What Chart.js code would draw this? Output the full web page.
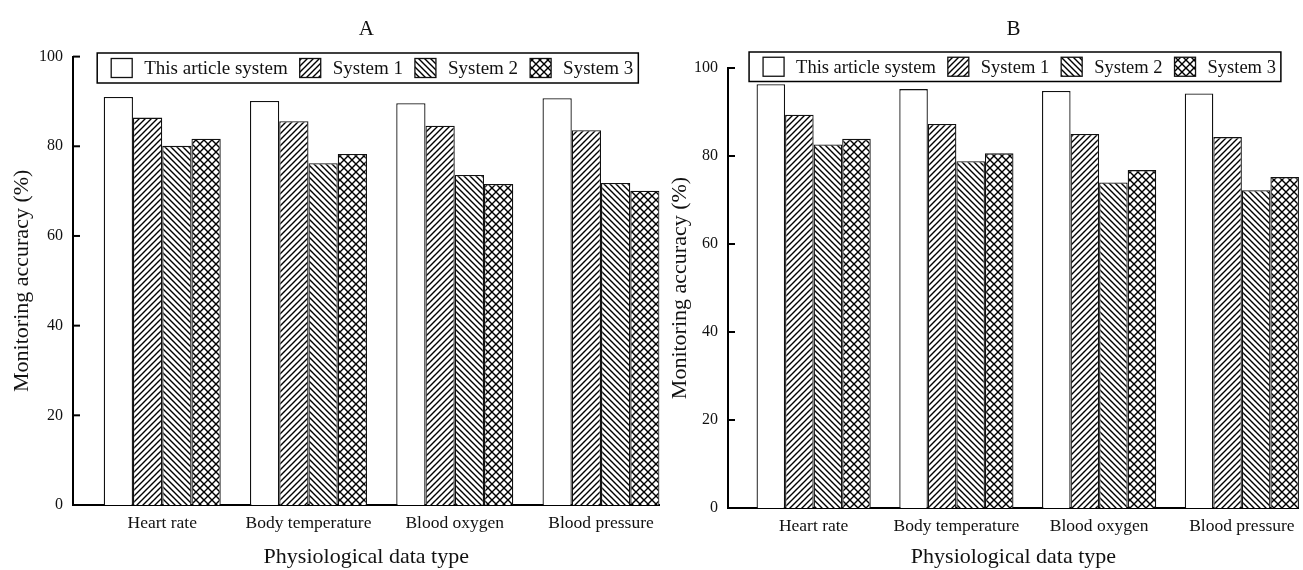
<!DOCTYPE html>
<html>
<head>
<meta charset="utf-8">
<script src="https://cdn.jsdelivr.net/npm/chart.js@4/dist/chart.umd.min.js"></script>
<style>
	html, body { margin: 0; padding: 0; background: #fff; }
	#wrap { position: relative; width: 1303px; height: 570px; overflow: hidden; }
	#boxA { position: absolute; left: 0; top: 0; width: 662px; height: 570px; }
	#boxB { position: absolute; left: 662px; top: 0; width: 641px; height: 570px; }
</style>
</head>
<body>
<div id="wrap">
	<div id="boxA"><canvas id="chartA" width="662" height="570"></canvas></div>
	<div id="boxB"><canvas id="chartB" width="641" height="570"></canvas></div>
</div>
<script>
var categories = ['Heart rate', 'Body temperature', 'Blood oxygen', 'Blood pressure'];
var seriesNames = ['This article system', 'System 1', 'System 2', 'System 3'];
var yTicks = [0, 20, 40, 60, 80, 100];

// panel A
var aThisSystem = [91.0, 90.1, 89.6, 90.7];
var aSystem1 = [86.4, 85.6, 84.6, 83.6];
var aSystem2 = [80.1, 76.2, 73.6, 71.8];
var aSystem3 = [81.7, 78.3, 71.6, 70.1];

// panel B
var bThisSystem = [96.3, 95.2, 94.8, 94.2];
var bSystem1 = [89.4, 87.3, 85.0, 84.3];
var bSystem2 = [82.6, 78.8, 74.0, 72.2];
var bSystem3 = [83.9, 80.6, 76.8, 75.2];

var serif = "'Liberation Serif', 'Times New Roman', serif";
Chart.defaults.font.family = serif;
Chart.defaults.color = '#111';

function makeHatch(kind) {
	var p = kind == 'cross' ? 8 : 6;
	var c = document.createElement('canvas');
	c.width = p; c.height = p;
	var g = c.getContext('2d');
	g.fillStyle = '#fff';
	g.fillRect(0, 0, p, p);
	g.strokeStyle = '#000';
	g.lineWidth = 1.4;
	function up() {
		g.beginPath();
		g.moveTo(-1, p + 1); g.lineTo(p + 1, -1);
		g.moveTo(-1, 1); g.lineTo(1, -1);
		g.moveTo(p - 1, p + 1); g.lineTo(p + 1, p - 1);
		g.stroke();
	}
	function down() {
		g.beginPath();
		g.moveTo(-1, -1); g.lineTo(p + 1, p + 1);
		g.moveTo(p - 1, -1); g.lineTo(p + 1, 1);
		g.moveTo(-1, p - 1); g.lineTo(1, p + 1);
		g.stroke();
	}
	if (kind == 'up' || kind == 'cross') up();
	if (kind == 'down' || kind == 'cross') down();
	return g.createPattern(c, 'repeat');
}

var fills = ['#fff', makeHatch('up'), makeHatch('down'), makeHatch('cross')];

// ticks drawn on the inside of the y axis
var innerTicks = {
	id: 'innerTicks',
	afterDraw: function (chart) {
		var y = chart.scales.y, ctx = chart.ctx;
		ctx.save();
		ctx.strokeStyle = '#000';
		ctx.lineWidth = 2;
		y.ticks.forEach(function (t) {
			var py = y.getPixelForValue(t.value);
			ctx.beginPath();
			ctx.moveTo(y.right, py);
			ctx.lineTo(y.right + 7, py);
			ctx.stroke();
		});
		ctx.restore();
	}
};

// boxed one-row legend sitting over the top of the plot
var boxLegend = {
	id: 'boxLegend',
	afterDraw: function (chart, args, opts) {
		var ctx = chart.ctx, area = chart.chartArea;
		var sw = 21, sh = 19, gap = 12, padL = 14, padR = 5;
		ctx.save();
		ctx.font = opts.fontSize + 'px ' + serif;
		var items = chart.data.datasets.map(function (d) {
			return { label: d.label, fill: d.backgroundColor, w: ctx.measureText(d.label).width };
		});
		var total = 0;
		items.forEach(function (it, i) {
			total += sw + gap + it.w + (i > 0 ? gap : 0);
		});
		var boxW = total + padL + padR;
		var x0 = (area.left + area.right) / 2 + 1.5 - boxW / 2;
		var top = opts.top, h = opts.height;
		ctx.fillStyle = '#fff';
		ctx.fillRect(x0, top, boxW, h);
		ctx.strokeStyle = '#000';
		ctx.lineWidth = 1.5;
		ctx.strokeRect(x0, top, boxW, h);
		var cy = top + h / 2;
		var x = x0 + padL;
		ctx.textBaseline = 'middle';
		items.forEach(function (it) {
			ctx.fillStyle = it.fill;
			ctx.fillRect(x, cy - sh / 2, sw, sh);
			ctx.lineWidth = 1.3;
			ctx.strokeStyle = '#111';
			ctx.strokeRect(x, cy - sh / 2, sw, sh);
			x += sw + gap;
			ctx.fillStyle = '#111';
			ctx.fillText(it.label, x, cy + 1);
			x += it.w + gap;
		});
		ctx.restore();
	}
};

function toPoints(arr) {
	return arr.map(function (v, i) { return { x: i + 1, y: v }; });
}

function makePanel(id, title, series, cfg) {
	var datasets = series.map(function (vals, k) {
		return {
			label: seriesNames[k],
			data: toPoints(vals),
			backgroundColor: fills[k],
			borderColor: '#111',
			borderWidth: 1.3,
			categoryPercentage: 0.8,
			barPercentage: 1.0
		};
	});
	var ctx = document.getElementById(id).getContext('2d');
	return new Chart(ctx, {
		type: 'bar',
		data: { datasets: datasets },
		plugins: [innerTicks, boxLegend],
		options: {
			responsive: false,
			animation: false,
			layout: { padding: { left: 0, right: 1, top: 0, bottom: 0 } },
			plugins: {
				legend: { display: false },
				tooltip: { enabled: false },
				title: {
					display: true,
					fullSize: false,
					text: title,
					color: '#111',
					font: { size: 21, weight: 'normal' },
					padding: { top: 17, bottom: cfg.titleGap }
				},
				boxLegend: { fontSize: cfg.legendFont, top: cfg.legendTop, height: cfg.legendHeight }
			},
			scales: {
				x: {
					type: 'linear',
					offset: false,
					min: cfg.xMin,
					max: 4.4,
					afterFit: function (s) { s.height = cfg.xHeight; },
					afterBuildTicks: function (s) {
						s.ticks = categories.map(function (c, i) { return { value: i + 1 }; });
					},
					ticks: {
						autoSkip: false,
						maxRotation: 0,
						padding: 8,
						color: '#111',
						font: { size: 17.5 },
						callback: function (v) { return categories[v - 1]; }
					},
					grid: { display: false, drawTicks: false },
					border: { display: true, color: '#000', width: 2 },
					title: {
						display: true,
						text: 'Physiological data type',
						color: '#111',
						font: { size: 22 },
						padding: { top: 4, bottom: 0 }
					}
				},
				y: {
					min: 0,
					max: 100,
					afterFit: function (s) { s.width = cfg.yWidth; },
					afterBuildTicks: function (s) {
						s.ticks = yTicks.map(function (v) { return { value: v }; });
					},
					ticks: { padding: 10, color: '#111', font: { size: 16 } },
					grid: { display: false, drawTicks: false },
					border: { display: true, color: '#000', width: 2 },
					title: {
						display: true,
						text: 'Monitoring accuracy (%)',
						color: '#111',
						font: { size: 22 },
						padding: { top: cfg.yTitlePad, bottom: 0 }
					}
				}
			}
		}
	});
}

makePanel('chartA', 'A', [aThisSystem, aSystem1, aSystem2, aSystem3], {
	xMin: 0.39, yWidth: 73, xHeight: 65, titleGap: 14.4, yTitlePad: 9.3,
	legendFont: 19, legendTop: 53, legendHeight: 30
});
makePanel('chartB', 'B', [bThisSystem, bSystem1, bSystem2, bSystem3], {
	xMin: 0.4, yWidth: 66, xHeight: 62, titleGap: 25.8, yTitlePad: 4.8,
	legendFont: 18.5, legendTop: 52, legendHeight: 29.5
});
</script>
</body>
</html>
